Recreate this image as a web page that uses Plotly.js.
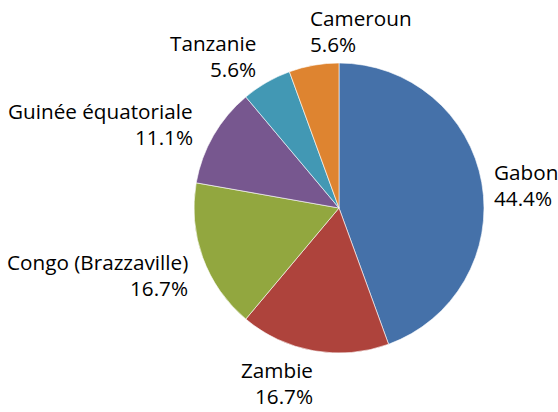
<!DOCTYPE html>
<html><head><meta charset="utf-8">
<script src="https://cdn.plot.ly/plotly-3.0.1.min.js"></script>
<style>html,body{margin:0;padding:0;background:#fff}</style>
</head><body>
<div id="chart" style="width:558px;height:412px"></div>
<script>
const categories = ["Gabon", "Zambie", "Congo (Brazzaville)", "Guinée équatoriale", "Tanzanie", "Cameroun"];
const values = [8, 3, 3, 2, 1, 1];
const colors = ["#4571A9", "#AE433C", "#92A73F", "#77578F", "#4298B4", "#DE8430"];

// label placement settings (radius from centre in px, horizontal anchor, nudges)
const labelRadius = [155, 178, 160, 168, 176, 180];
const labelAnchor = ["left", "right", "right", "right", "right", "left"];
const labelNudgeX = [0, 7, 1, 1, 7, 0];
const labelNudgeY = [4, 0, 12, 0, 0, 0];

const W = 558, H = 412;
const cx = 339, cy = 208, r = 145;
const dom = {x: [(cx - r) / W, (cx + r) / W], y: [(H - cy - r) / H, (H - cy + r) / H]};

const total = values.reduce((a, b) => a + b, 0);
const annotations = [];
let cum = 0;
const font = {family: "Open Sans, sans-serif", size: 20.7, color: "#000"};
values.forEach((v, i) => {
  const mid = (cum + v / 2) / total * 2 * Math.PI;
  cum += v;
  const px = cx + labelRadius[i] * Math.sin(mid) + labelNudgeX[i];
  const py = cy - labelRadius[i] * Math.cos(mid) + labelNudgeY[i];
  const pct = (v / total * 100).toFixed(1) + "%";
  [[categories[i], -13], [pct, 13]].forEach(([t, off]) => {
    annotations.push({
      xref: "paper", yref: "paper", x: px / W, y: 1 - (py + off) / H,
      text: t, showarrow: false, xanchor: labelAnchor[i], yanchor: "middle",
      font: font
    });
  });
});

const data = [{
  type: "pie", labels: categories, values: values, sort: false,
  direction: "clockwise", rotation: 0, textinfo: "none", hoverinfo: "label+percent",
  marker: {colors: colors, line: {color: "#ffffff", width: 0.6}},
  domain: dom, showlegend: false
}];
const layout = {
  width: W, height: H, margin: {l: 0, r: 0, t: 0, b: 0},
  paper_bgcolor: "#fff", plot_bgcolor: "#fff", showlegend: false,
  annotations: annotations, font: font
};
Plotly.newPlot("chart", data, layout, {displayModeBar: false, staticPlot: true});
</script>
</body></html>
